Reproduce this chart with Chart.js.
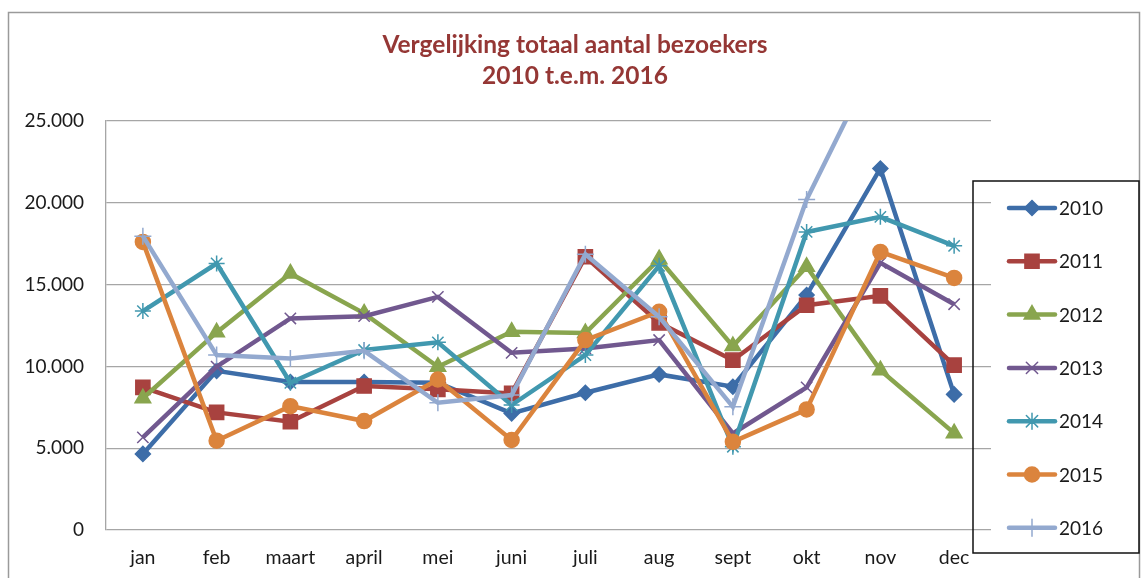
<!DOCTYPE html>
<html>
<head>
<meta charset="utf-8">
<script src="https://cdn.jsdelivr.net/npm/chart.js@4/dist/chart.umd.min.js"></script>
<style>
  html, body { margin: 0; padding: 0; background: #fff; }
  #wrap { width: 1144px; height: 578px; position: relative; }
</style>
</head>
<body>
<div id="wrap"><canvas id="chart"></canvas></div>
<script>
const months = ['jan', 'feb', 'maart', 'april', 'mei', 'juni', 'juli', 'aug', 'sept', 'okt', 'nov', 'dec'];
const years = ['2010', '2011', '2012', '2013', '2014', '2015', '2016'];
const yTicks = [0, 5000, 10000, 15000, 20000, 25000];

const v2010 = [4650, 9730, 9050, 9050, 9000, 7130, 8390, 9510, 8760, 14360, 22100, 8290];
const v2011 = [8720, 7190, 6620, 8800, 8600, 8350, 16700, 12660, 10380, 13740, 14310, 10080];
const v2012 = [8050, 12080, 15680, 13240, 9980, 12120, 12040, 16550, 11240, 16090, 9770, 5920];
const v2013 = [5660, 9980, 12930, 13070, 14250, 10830, 11100, 11610, 5900, 8720, 16330, 13800];
const v2014 = [13380, 16290, 9000, 11000, 11470, 7640, 10690, 16150, 5090, 18220, 19140, 17370];
const v2015 = [17610, 5460, 7570, 6660, 9200, 5500, 11610, 13340, 5390, 7370, 17000, 15410];
const v2016 = [17960, 10690, 10490, 10950, 7780, 8250, 16860, 13030, 7530, 20200, 29300, null];

const seriesValues = [v2010, v2011, v2012, v2013, v2014, v2015, v2016];
const colors = ['#3D6DA8', '#A8423F', '#89A54E', '#71588F', '#4198AF', '#DB843D', '#93A9CF'];
const markers = ['rectRot', 'rect', 'triangle', 'crossRot', 'star', 'circle', 'cross'];
const markerSize = [7.5, 10, 9, 8, 8, 7.5, 8.5];

const FONT = 'Lato, "Open Sans", sans-serif';

function fmt(v) {
    return String(v).replace(/\B(?=(\d{3})+(?!\d))/g, '.');
}

// frame, title and legend drawn by hand
const decor = {
    id: 'decor',
    beforeDraw(chart) {
        const ctx = chart.ctx;
        ctx.save();
        ctx.fillStyle = '#fff';
        ctx.fillRect(0, 0, chart.width, chart.height);
        ctx.strokeStyle = '#9A9A9A';
        ctx.lineWidth = 1.5;
        ctx.strokeRect(8.5, 12.5, 1131, 620);
        ctx.restore();
    },
    afterDraw(chart) {
        const ctx = chart.ctx;
        ctx.save();
        ctx.fillStyle = '#953735';
        ctx.font = 'bold 24.5px ' + FONT;
        ctx.textAlign = 'center';
        ctx.textBaseline = 'middle';
        ctx.fillText('Vergelijking totaal aantal bezoekers', 575, 45);
        ctx.fillText('2010 t.e.m. 2016', 575, 76);

        // legend box
        ctx.strokeStyle = '#111';
        ctx.lineWidth = 1.5;
        ctx.strokeRect(973, 181, 166, 372);
        ctx.font = '19px ' + FONT;
        ctx.textAlign = 'left';
        years.forEach((y, i) => {
            const cy = 208 + i * 53.3;
            ctx.strokeStyle = colors[i];
            ctx.fillStyle = colors[i];
            ctx.lineWidth = 4.5;
            ctx.lineCap = 'round';
            ctx.beginPath();
            ctx.moveTo(1009, cy);
            ctx.lineTo(1055, cy);
            ctx.stroke();
            ctx.lineWidth = 1.5;
            Chart.helpers.drawPoint(ctx, {
                pointStyle: markers[i], radius: markerSize[i], borderWidth: 1.5, rotation: 0
            }, 1032, cy);
            ctx.fillStyle = '#1a1a1a';
            ctx.fillText(y, 1059, cy + 1);
        });
        ctx.restore();
    }
};

const datasets = years.map((y, i) => ({
    label: y,
    data: seriesValues[i],
    borderColor: colors[i],
    backgroundColor: colors[i],
    borderWidth: 4.5,
    pointStyle: markers[i],
    pointRadius: markerSize[i],
    pointBackgroundColor: colors[i],
    pointBorderColor: colors[i],
    pointBorderWidth: 1.5,
    tension: 0,
    clip: 0,
    order: years.length - i
}));

new Chart(document.getElementById('chart'), {
    type: 'line',
    data: { labels: months, datasets: datasets },
    plugins: [decor],
    options: {
        responsive: true,
        maintainAspectRatio: false,
        animation: false,
        layout: { padding: { top: 121, right: 153, left: 0, bottom: 0 } },
        plugins: {
            legend: { display: false },
            title: { display: false },
            tooltip: { enabled: false }
        },
        scales: {
            x: {
                offset: true,
                grid: { display: false, drawTicks: false },
                border: { display: false },
                ticks: { color: '#1a1a1a', font: { family: FONT, size: 19.5 }, padding: 16, maxRotation: 0, autoSkip: false },
                afterFit(scale) { scale.height = 48; }
            },
            y: {
                min: 0,
                max: 25000,
                afterBuildTicks(scale) { scale.ticks = yTicks.map(v => ({ value: v })); },
                grid: { color: '#A6A6A6', lineWidth: 1.3, drawTicks: false },
                border: { display: true, color: '#A6A6A6', width: 1.3 },
                ticks: { color: '#1a1a1a', font: { family: FONT, size: 19 }, padding: 22, callback: v => fmt(v) },
                afterFit(scale) { scale.width = 106; }
            }
        }
    }
});
</script>
</body>
</html>
